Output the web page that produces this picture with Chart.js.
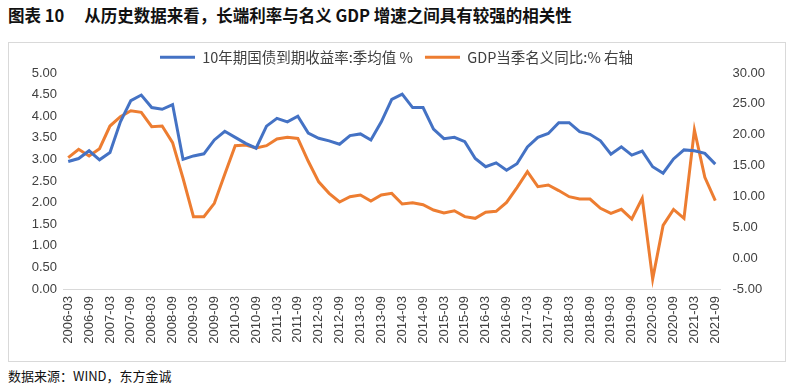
<!DOCTYPE html>
<html>
<head>
<meta charset="utf-8">
<script src="https://cdn.jsdelivr.net/npm/chart.js@4"></script>
<style>
  body { margin: 0; width: 789px; height: 385px; background: #fff; position: relative; overflow: hidden;
         font-family: "Liberation Sans", "Noto Sans CJK SC", sans-serif; }
  #title { position: absolute; left: 8px; top: 4px; font-size: 16.5px; font-weight: bold; color: #111;
           font-family: "Noto Sans CJK SC", sans-serif; white-space: pre; line-height: 22px; }
  #title span { margin-left: 20px; }
  #frame { position: absolute; left: 8px; top: 42px; width: 776px; height: 318px; border: 1px solid #d9d9d9; }
  #wrap { position: absolute; left: 8px; top: 38px; width: 777px; height: 323px; }
  #source { position: absolute; left: 8px; top: 367px; font-size: 13px; color: #111;
            font-family: "Noto Sans CJK SC", sans-serif; line-height: 18px; }
</style>
</head>
<body>
<div id="title">图表 10<span>从历史数据来看，长端利率与名义 GDP 增速之间具有较强的相关性</span></div>
<div id="frame"></div>
<div id="wrap"><canvas id="chart"></canvas></div>
<div id="source">数据来源：WIND，东方金诚</div>
<script>
// 季度：2006-03 ... 2021-09
const years = [2006, 2007, 2008, 2009, 2010, 2011, 2012, 2013, 2014, 2015, 2016, 2017, 2018, 2019, 2020, 2021];
const months = ['03', '06', '09', '12'];
const quarters = [];
years.forEach(y => months.forEach(m => quarters.push(y + '-' + m)));
quarters.length = 63;

// 10年期国债到期收益率:季均值 %
const bondYield = [
  2.95, 3.02, 3.20, 2.99, 3.16, 3.87, 4.36, 4.49, 4.20, 4.16,
  4.27, 3.00, 3.08, 3.13, 3.45, 3.65, 3.51, 3.37, 3.26, 3.77,
  3.95, 3.87, 4.00, 3.61, 3.49, 3.43, 3.35, 3.55, 3.59, 3.45,
  3.87, 4.39, 4.51, 4.20, 4.20, 3.70, 3.48, 3.51, 3.41, 3.02,
  2.83, 2.92, 2.75, 2.90, 3.29, 3.51, 3.60, 3.85, 3.85, 3.64,
  3.58, 3.43, 3.12, 3.29, 3.10, 3.19, 2.83, 2.68, 3.01, 3.22,
  3.20, 3.14, 2.89
];

// GDP当季名义同比:% 右轴
const gdpNominal = [
  16.28, 17.63, 16.55, 17.74, 21.41, 22.92, 23.89, 23.63, 21.30, 21.41,
  18.71, 12.94, 6.72, 6.72, 8.88, 13.60, 18.22, 18.33, 17.85, 18.22,
  19.30, 19.60, 19.40, 15.70, 12.36, 10.50, 9.10, 9.96, 10.23, 9.26,
  10.23, 10.50, 8.77, 8.99, 8.65, 7.80, 7.32, 7.67, 6.72, 6.45,
  7.45, 7.58, 9.02, 11.44, 14.00, 11.58, 11.85, 10.95, 9.96, 9.58,
  9.58, 8.07, 7.26, 7.91, 6.34, 9.69, -3.40, 5.30, 7.90, 6.45,
  20.76, 13.10, 9.31
];

const tickFont = { family: '"Liberation Sans", "Noto Sans CJK SC", sans-serif', size: 13 };
const tickColor = '#404040';

new Chart(document.getElementById('chart'), {
  type: 'line',
  data: {
    labels: quarters,
    datasets: [
      {
        label: '10年期国债到期收益率:季均值 %',
        data: bondYield,
        borderColor: '#4472C4',
        backgroundColor: '#4472C4',
        borderWidth: 3,
        pointRadius: 0,
        tension: 0,
        yAxisID: 'y'
      },
      {
        label: 'GDP当季名义同比:% 右轴',
        data: gdpNominal,
        borderColor: '#ED7D31',
        backgroundColor: '#ED7D31',
        borderWidth: 3,
        pointRadius: 0,
        tension: 0,
        yAxisID: 'y1'
      }
    ]
  },
  options: {
    responsive: true,
    maintainAspectRatio: false,
    animation: false,
    layout: { padding: 0 },
    plugins: {
      tooltip: { enabled: false },
      legend: {
        position: 'top',
        maxHeight: 35,
        labels: {
          usePointStyle: true,
          pointStyle: 'line',
          pointStyleWidth: 35,
          padding: 12,
          color: '#404040',
          font: { family: '"Noto Sans CJK SC", sans-serif', size: 14.5 }
        }
      }
    },
    scales: {
      x: {
        offset: true,
        grid: { display: false, drawTicks: false },
        border: { display: true, color: '#d9d9d9', width: 1 },
        ticks: {
          autoSkip: false,
          minRotation: 90,
          maxRotation: 90,
          padding: 7,
          color: tickColor,
          font: tickFont,
          callback: function (value, index) {
            return index % 2 === 0 ? this.getLabelForValue(value) : '';
          }
        },
        afterFit: scale => { scale.height = 72; }
      },
      y: {
        position: 'left',
        min: 0,
        max: 5,
        grid: { display: false, drawTicks: false },
        border: { display: false },
        ticks: {
          stepSize: 0.5,
          padding: 6,
          color: tickColor,
          font: tickFont,
          callback: v => v.toFixed(2)
        },
        afterFit: scale => { scale.width = 55; }
      },
      y1: {
        position: 'right',
        min: -5,
        max: 30,
        grid: { display: false, drawTicks: false },
        border: { display: false },
        ticks: {
          stepSize: 5,
          padding: 12,
          color: tickColor,
          font: tickFont,
          callback: v => v.toFixed(2)
        },
        afterFit: scale => { scale.width = 64.5; }
      }
    }
  }
});
</script>
</body>
</html>
